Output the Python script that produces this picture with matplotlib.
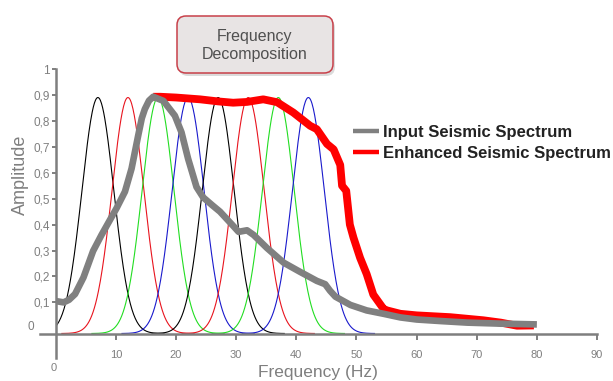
import numpy as np
import matplotlib
matplotlib.use("Agg")
import matplotlib.pyplot as plt
from matplotlib.patches import FancyBboxPatch
from matplotlib.transforms import IdentityTransform

plt.rcParams['font.family'] = ['Liberation Sans', 'DejaVu Sans']

# Decomposition bands (Gaussian windows)
band_centers = [7, 12, 17, 22, 27, 32, 37, 42]
band_colors = ['black', '#e8141e', '#22dd22', '#1a1acc',
               'black', '#e8141e', '#22dd22', '#1a1acc']
band_peak = 0.89
band_sigma = 2.65
band_base = -0.02   # bands sit on the x axis line

# Input seismic spectrum (gray)
input_freq = [0, 1.3, 2.2, 3.2, 4.6, 6.2, 7.6, 10.1, 11.5, 12.6, 13.7, 14.3,
              14.8, 15.5, 16.2, 17.9, 19.8, 20.9, 22.0, 23.4, 24.5, 26.0, 27.3,
              29.5, 30.4, 31.8, 32.9, 35.1, 37.9, 40.6, 43.4, 44.8, 45.6, 46.5,
              49.0, 51.7, 54.5, 57.3, 60, 64, 68.4, 74, 80]
input_amp = [0.105, 0.10, 0.11, 0.132, 0.196, 0.298, 0.36, 0.463, 0.527,
             0.616, 0.743, 0.81, 0.845, 0.878, 0.893, 0.877, 0.82, 0.756,
             0.654, 0.545, 0.505, 0.475, 0.45, 0.395, 0.372, 0.378, 0.36,
             0.31, 0.253, 0.218, 0.183, 0.17, 0.145, 0.122, 0.09, 0.069,
             0.056, 0.042, 0.034, 0.028, 0.022, 0.018, 0.015]

# Enhanced seismic spectrum (red)
enh_freq = [16.2, 17.4, 20, 24, 27, 29.5, 31.8, 34.5, 36.8, 39.5, 42.3, 43.4,
            45.1, 46.2, 47.3, 47.6, 48.3, 48.9, 49.5, 50.6, 51.7, 52.8, 54.5,
            55.1, 57.3, 60, 65.6, 71.1, 74, 76.7, 79.5]
enh_amp = [0.893, 0.893, 0.89, 0.883, 0.875, 0.87, 0.873, 0.883, 0.872, 0.832,
           0.781, 0.768, 0.711, 0.69, 0.63, 0.55, 0.53, 0.40, 0.35, 0.272,
           0.209, 0.13, 0.075, 0.069, 0.056, 0.05, 0.043, 0.031, 0.022,
           0.01, 0.011]

x_ticks = [10, 20, 30, 40, 50, 60, 70, 80, 90]
y_ticks = [0.1, 0.2, 0.3, 0.4, 0.5, 0.6, 0.7, 0.8, 0.9, 1.0]
y_tick_labels = ['0,1', '0,2', '0,3', '0,4', '0,5', '0,6', '0,7', '0,8', '0,9', '1']

W, H = 613, 381
axis_gray = '#7f7f7f'

fig = plt.figure(figsize=(W / 100, H / 100), dpi=100)
ax = fig.add_axes([55.8 / W, 1 - 333.5 / H, (597 - 55.8) / W, (333.5 - 69) / H])
ax.set_xlim(0, 90)
ax.set_ylim(-0.02, 1.0)

# bands
for c, col in zip(band_centers, band_colors):
    f = np.linspace(max(0, c - 11), c + 11, 200)
    g = np.exp(-(f - c) ** 2 / (2 * band_sigma ** 2))
    ax.plot(f, band_base + (band_peak - band_base) * g, color=col, lw=0.8, zorder=2)

ax.plot(enh_freq, enh_amp, color='#ff0000', lw=5.6, solid_joinstyle='round',
        solid_capstyle='butt', zorder=3, label='Enhanced Seismic Spectrum')
ax.plot(input_freq, input_amp, color='#808080', lw=4.8, solid_joinstyle='round',
        solid_capstyle='butt', zorder=4, label='Input Seismic Spectrum')

# axes drawn by hand so they overhang past the origin
for s in ax.spines.values():
    s.set_visible(False)
ax.plot([-2.6, 90], [-0.02, -0.02], color=axis_gray, lw=1.8, clip_on=False, zorder=5)
ax.plot([0, 0], [-0.115, 1.0], color=axis_gray, lw=1.8, clip_on=False, zorder=5)

ax.set_xticks(x_ticks)
ax.set_xticklabels([str(t) for t in x_ticks])
ax.set_yticks(y_ticks)
ax.set_yticklabels(y_tick_labels)
ax.tick_params(axis='x', direction='out', length=4.5, width=1.4, color=axis_gray,
               labelcolor=axis_gray, labelsize=8, pad=7.5)
ax.tick_params(axis='y', direction='out', length=3, width=1.4, color=axis_gray,
               labelcolor=axis_gray, labelsize=8.5, pad=1.5)
ax.text(-0.3, -0.153, '0', color=axis_gray, fontsize=8, ha='center', va='center')
ax.text(-3.6, 0.005, '0', color=axis_gray, fontsize=8.5, ha='right', va='center')

fig.text(20 / W, 1 - 175 / H, 'Amplitude', rotation=90, color=axis_gray,
         fontsize=13, ha='center', va='center')
fig.text(318 / W, 0.5 / H, 'Frequency (Hz)', color=axis_gray, fontsize=12.5,
         ha='center', va='bottom')

handles, labels = ax.get_legend_handles_labels()
leg = ax.legend(handles[::-1], labels[::-1], loc='upper left',
                bbox_to_anchor=(353 / W, 1 - 124.5 / H), bbox_transform=fig.transFigure,
                frameon=False, borderpad=0, borderaxespad=0, handlelength=1.55,
                handletextpad=0.25, labelspacing=0.4,
                prop={'weight': 'bold', 'size': 12})
for t in leg.get_texts():
    t.set_color('#222222')
for l in leg.get_lines():
    l.set_linewidth(3.2)

# title box with shadow
shadow = FancyBboxPatch((179, H - 76), 156, 57, boxstyle='round,pad=0,rounding_size=9',
                        transform=IdentityTransform(), facecolor='#b0b0b0', alpha=0.45,
                        edgecolor='none', zorder=0)
box = FancyBboxPatch((177, H - 73), 156, 57, boxstyle='round,pad=0,rounding_size=9',
                     transform=IdentityTransform(), facecolor='#e8e4e4',
                     edgecolor='#c8404a', lw=1.1, zorder=1)
fig.patches.extend([shadow, box])
fig.text(255 / W, 1 - 36.7 / H, 'Frequency', color='#505050', fontsize=11.5,
         ha='center', va='center')
fig.text(255 / W, 1 - 55 / H, 'Decomposition', color='#505050', fontsize=11.5,
         ha='center', va='center')

fig.savefig('out.png', dpi=100)
